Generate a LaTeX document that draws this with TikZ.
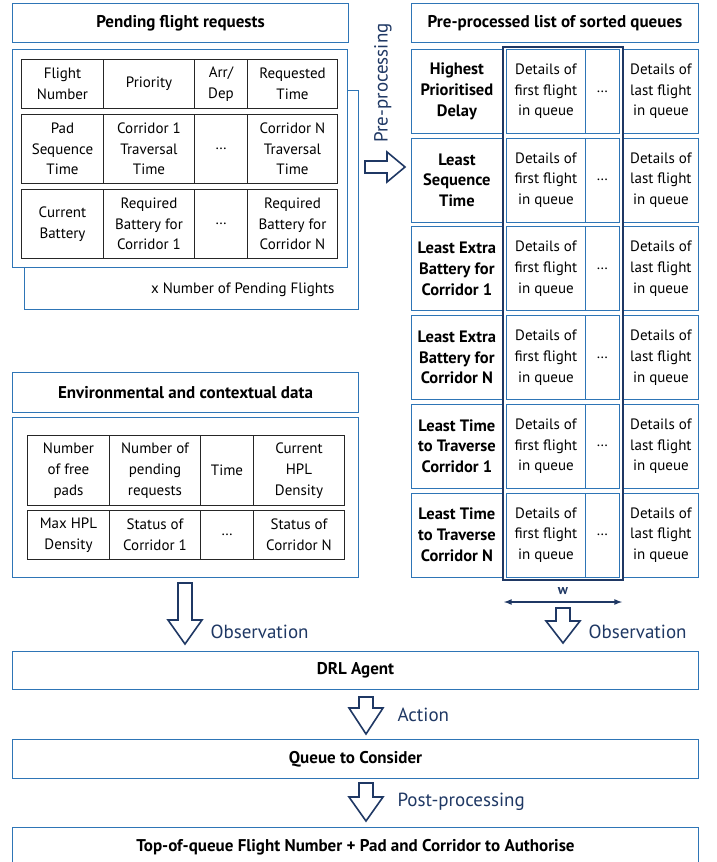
\documentclass[tikz,border=0pt]{standalone}
\usepackage{fontspec}
\setmainfont{PT Sans}
\usetikzlibrary{positioning}

\definecolor{boxblue}{HTML}{2E75B6}
\definecolor{navy}{HTML}{1F3864}

\tikzset{
  every node/.style={font=\fontsize{15}{20.7}\selectfont},
  titlebox/.style={draw=boxblue, line width=1pt, anchor=north west, inner sep=0pt,
    font=\fontsize{17}{20.7}\selectfont\bfseries},
  framebox/.style={draw=boxblue, line width=1pt, fill=white},
  cell/.style={draw=black!85, line width=1pt, anchor=north west, align=center, inner sep=0pt},
  qcell/.style={draw=boxblue, line width=0.8pt, anchor=north west, align=center, inner sep=0pt},
  flow/.style={draw=navy, line width=1.6pt, fill=white, line join=miter},
  flowlbl/.style={text=navy, anchor=west, font=\fontsize{19}{22}\selectfont},
}

% hollow block arrow pointing down: x, top, head start, tip
\newcommand\flowdown[4]{
  \draw[flow] (#1-7,#2) -- (#1+7,#2) -- (#1+7,#3) -- (#1+17,#3) -- (#1,#4)
    -- (#1-17,#3) -- (#1-7,#3) -- cycle;
}

\begin{document}
\begin{tikzpicture}[x=1pt,y=-1pt]
  \clip (0,0) rectangle (717,862);
  \fill[white] (0,0) rectangle (717,862);

  % pending flight requests
  \node[titlebox, minimum width=336pt, minimum height=39pt] (pending) at (12,3) {Pending flight requests};
  \draw[framebox] (24,90) rectangle (358,309);
  \node[anchor=east] (npend) at (338,290) {x Number of Pending Flights};
  \draw[framebox] (12,49) rectangle (347,267);
  \foreach \cx/\cw/\txt [count=\c] in {21/82/{Flight\\Number}, 103/91/Priority,
      194/53/{Arr/\\Dep}, 247/90/{Requested\\Time}} {
    \node[cell, minimum width=\cw pt, minimum height=49pt] (fa\c) at (\cx,59) {\txt};
  }
  \foreach \cx/\cw/\txt [count=\c] in {21/82/{Pad\\Sequence\\Time}, 103/91/{Corridor 1\\Traversal\\Time},
      194/53/{\dots}, 247/90/{Corridor N\\Traversal\\Time}} {
    \node[cell, minimum width=\cw pt, minimum height=69pt] (fb\c) at (\cx,114) {\txt};
  }
  \foreach \cx/\cw/\txt [count=\c] in {21/82/{Current\\Battery}, 103/91/{Required\\Battery for\\Corridor 1},
      194/53/{\dots}, 247/90/{Required\\Battery for\\Corridor N}} {
    \node[cell, minimum width=\cw pt, minimum height=69pt] (fc\c) at (\cx,189) {\txt};
  }

  % environmental data
  \node[titlebox, minimum width=346pt, minimum height=40pt] (envt) at (12,372) {Environmental and contextual data};
  \draw[framebox] (12,417) rectangle (358,577);
  \foreach \cx/\cw/\txt [count=\c] in {27/82/{Number\\of free\\pads}, 109/91/{Number of\\pending\\requests},
      200/53/Time, 253/91/{Current\\HPL\\Density}} {
    \node[cell, minimum width=\cw pt, minimum height=70pt] (ea\c) at (\cx,435) {\txt};
  }
  \foreach \cx/\cw/\txt [count=\c] in {27/82/{Max HPL\\Density}, 109/91/{Status of\\Corridor 1},
      200/53/{\dots}, 253/91/{Status of\\Corridor N}} {
    \node[cell, minimum width=\cw pt, minimum height=49pt] (eb\c) at (\cx,510) {\txt};
  }

  % sorted queues
  \node[titlebox, minimum width=287pt, minimum height=39pt] (queues) at (411,3) {Pre-processed list of sorted queues};
  \foreach \lab [count=\r from 0] in {{Highest\\Prioritised\\Delay}, {Least\\Sequence\\Time},
      {Least Extra\\Battery for\\Corridor 1}, {Least Extra\\Battery for\\Corridor N},
      {Least Time\\to Traverse\\Corridor 1}, {Least Time\\to Traverse\\Corridor N}} {
    \pgfmathsetmacro\y{49+88.7*\r}
    \node[qcell, minimum width=91pt, minimum height=84pt, font=\fontsize{16.5}{20.7}\selectfont\bfseries] (q\r-lab) at (411,\y) {\lab};
    \node[qcell, minimum width=79pt, minimum height=84pt] (q\r-first) at (506,\y) {Details of\\first flight\\in queue};
    \node[qcell, minimum width=34pt, minimum height=84pt] (q\r-dots) at (585,\y) {\dots};
    \node[qcell, minimum width=75pt, minimum height=84pt] (q\r-last) at (623,\y) {Details of\\last flight\\in queue};
  }
  \draw[navy, line width=2.5pt] (503,47) rectangle (623,580);
  \coordinate (wl) at (504,602);
  \coordinate (wr) at (622,602);
  \draw[navy, line width=1.6pt, latex-latex] (wl) -- (wr);
  \node[text=navy, font=\fontsize{14}{16}\selectfont\bfseries] (wlab) at (563,591) {w};

  % pre-processing arrow
  \draw[flow] (365,161) -- (387,161) -- (387,152) -- (405,167) -- (387,182) -- (387,173) -- (365,173) -- cycle;
  \node[text=navy, rotate=90, font=\fontsize{19}{22}\selectfont] (prep) at (383,83) {Pre-processing};

  % agent chain
  \node[titlebox, minimum width=686pt, minimum height=38pt] (agent) at (12,651) {DRL Agent};
  \node[titlebox, minimum width=686pt, minimum height=39pt] (consider) at (12,739) {Queue to Consider};
  \node[titlebox, minimum width=686pt, minimum height=40pt] (authorise) at (12,827) {Top-of-queue Flight Number + Pad and Corridor to Authorise};

  \flowdown{185}{583}{620}{644}
  \node[flowlbl] (obsl) at (207,632) {Observation};
  \flowdown{563}{608}{621}{643}
  \node[flowlbl] (obsr) at (585,632) {Observation};
  \flowdown{366}{697}{708}{734}
  \node[flowlbl] (act) at (394,715) {Action};
  \flowdown{366}{783}{797}{821}
  \node[flowlbl] (post) at (394,802) {Post-processing};
\end{tikzpicture}
\end{document}
